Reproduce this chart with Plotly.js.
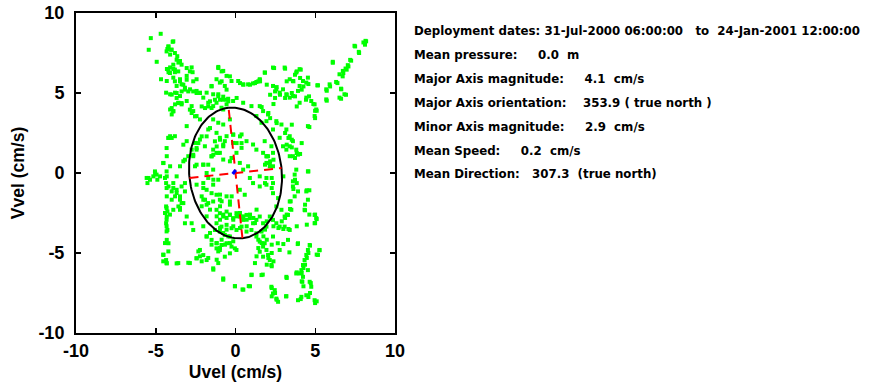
<!DOCTYPE html>
<html><head><meta charset="utf-8">
<script src="https://cdn.plot.ly/plotly-3.0.1.min.js"></script>
<style>body{margin:0;background:#fff}#chart{width:869px;height:389px}</style>
</head><body><div id="chart"></div>
<script>
// Velocity scatter (cm/s)
const uvel = [
-5.31,-4.69,-5.44,-4.94,-4.2,-4.04,-3.94,-4.27,-4.1,-3.8,-3.65,-3.48,-3.58,-4.3,-4.1,-3.9,-3.8,-4.2,
-4.67,-4.31,-3.9,-3.48,-3.06,-2.69,-2.44,-3.69,-3.38,-3.17,-2.85,-2.44,-2.23,-4.35,-4.1,-3.79,-3.48,
-3.58,-3.79,-3.38,-4.1,-4.0,-3.9,-3.06,-2.75,-2.65,-2.44,-2.23,-3.06,-3.06,-4.1,-4.2,-3.8,
-4.52,-4.73,-4.31,-4.35,-4.2,-5.46,-5.52,-5.04,-4.9,-5.15,
-4.31,-4.35,-4.27,-4.31,-4.35,-4.27,-4.31,-4.2,-4.52,-4.35,-4.31,
-3.69,-2.96,-2.44,-2.02,-1.4,-4.0,-3.79,-3.48,-3.27,-3.58,-3.9,-3.17,-3.9,-3.69,-3.38,
-1.08,-0.77,-0.56,-1.19,-0.98,-0.67,-0.25,0.17,0.48,0.79,1.1,1.31,1.52,
-1.5,-1.81,-1.4,-1.08,-0.77,-0.46,-0.15,-2.02,-1.71,-1.4,-1.19,-0.88,-0.56,0.48,1.0,1.52,1.73,2.35,1.83,1.52,
2.35,2.56,2.77,2.98,3.19,3.4,3.6,3.92,4.02,4.23,4.44,4.54,3.81,4.02,3.08,3.4,3.6,
4.02,4.44,4.75,4.96,5.06,4.96,4.54,5.17,5.69,5.9,6.31,6.63,6.83,6.52,5.69,
6.1,6.52,6.73,6.9,7.04,7.19,7.46,7.73,8.02,8.15,
2.04,2.56,2.35,2.88,3.19,3.4,3.6,3.4,3.81,3.92,3.6,2.77,2.98,3.19,3.4,2.35,2.04,1.94,2.15,
4.54,3.71,3.6,3.81,4.44,4.54,3.4,3.5,3.29,4.33,4.96,5.06,4.96,5.27,5.17,
4.65,4.54,4.44,4.33,4.23,4.13,4.02,4.23,3.92,3.81,4.54,3.92,4.13,4.44,4.75,4.96,4.65,4.19,3.19,3.29,3.4,3.08,
-1.4,-1.08,-0.77,-1.71,-1.19,-0.98,-0.56,-0.15,0.38,0.69,-2.23,-1.92,-1.4,-1.19,-1.5,-0.77,-0.67,
-2.44,-2.65,-2.54,-2.02,-1.81,-1.4,1.1,1.31,1.73,1.94,2.15,2.35,1.83,2.25,0.27,-0.25,0.06,0.38,
0.9,1.1,1.52,1.94,2.35,1.52,1.94,-1.81,-1.5,-1.19,-2.02,-1.71,-1.4,-0.98,-0.56,-0.35,
-1.19,-0.98,-0.77,-0.56,-0.35,-0.15,0.06,0.27,0.48,0.69,0.9,1.1,1.31,1.52,1.73,1.94,2.15,2.35,2.56,2.77,
-1.19,-0.88,-0.56,-0.25,0.06,0.38,0.69,1.0,1.31,1.63,-0.98,-0.67,-0.35,-1.29,
-1.81,-1.5,-1.19,-0.88,-0.56,-0.25,0.06,-0.98,-0.67,-0.35,-0.04,-1.19,
1.31,1.52,1.73,1.94,2.04,2.15,2.25,1.73,1.52,1.83,2.35,2.65,2.77,
-0.77,-0.04,0.44,0.83,1.0,1.63,2.25,2.35,2.56,2.67,3.19,2.46,-2.23,-2.44,-1.81,
-3.48,-3.06,-2.75,-2.65,-3.17,-3.69,-3.48,-4.1,-4.31,-0.77,-0.35,1.31,1.63,1.94,
-0.77,-0.35,-0.98,-0.15,-2.54,-2.75,-2.96,-2.02,-1.71,-1.4,0.48,0.79,0.27,0.58,
2.35,2.67,2.56,2.88,3.08,3.6,3.92,3.71,
-4.21,-4.0,-3.9,-4.32,-3.69,-3.48,-3.38,-3.9,-3.8,-4.21,-4.11,-3.59,-3.06,-2.86,-2.75,-2.65,-3.06,-3.48,-3.8,
-3.27,-3.38,-3.69,-4.0,-3.17,-2.96,-2.65,-2.44,-2.23,-3.69,-3.59,-3.38,-4.0,-3.9,-2.86,-2.75,-2.54,
-2.12,-1.91,-1.71,-1.5,-1.6,-1.29,-1.08,-0.97,-0.77,-0.56,-0.45,-1.5,-0.87,-0.56,-1.08,-0.87,-0.35,
0.28,0.49,0.91,1.22,1.43,0.07,
-4.32,-4.21,-4.0,-3.27,-3.27,-3.17,-4.53,-5.05,-4.32,-2.65,-2.44,-2.33,-2.12,-1.81,-1.6,-1.29,-1.18,-0.97,-0.77,
-1.39,-1.08,-1.5,-1.71,-2.02,-2.44,-0.14,0.28,0.07,0.38,
-1.18,-0.97,-0.77,-0.56,-0.35,-0.14,0.07,0.28,0.49,0.7,0.91,1.12,1.32,1.22,0.7,0.28,-0.14,-0.56,-0.97,
-0.77,-0.45,-0.87,-1.18,-0.66,-0.35,-0.14,-0.97,-1.08,-1.5,-1.81,-1.6,-2.02,-1.81,-2.12,-1.91,-1.81,-2.12,
-1.6,-0.97,-0.87,-0.35,-0.24,-0.97,-3.9,-3.69,-3.48,-3.38,-3.48,-4.0,-4.32,-4.42,-4.32,-4.11,-4.32,-4.32,
-4.42,-4.21,-4.53,-4.53,-4.32,-3.59,-2.86,-2.33,-2.23,-2.12,-1.71,-1.18,-1.08,-1.39,-0.77,-0.03,0.49,0.91,
1.01,1.22,1.32,1.43,1.43,-5.36,-5.57,-4.95,-4.42,-4.32,-3.17,-2.44,-2.02,-1.39,-1.08,
8.19,8.12,7.5,7.75,7.25,7.08,6.97,6.76,6.72,6.1,6.39,6.62,6.93,6.62,5.93,5.72,5.72,5.13,4.57,4.99,4.99,
5.09,4.63,4.88,4.61,4.42,4.15,4.26,4.05,4.09,3.73,3.84,3.63,3.21,3.11,2.42,1.85,1.96,2.58,2.48,2.17,2.48,
2.79,3.11,3.21,3.53,3.73,3.84,2.38,1.64,2.06,2.17,2.58,3.53,3.11,3.32,3.53,3.21,3.53,3.84,4.05,3.73,1.96,
2.17,1.85,2.38,4.15,4.57,1.54,
2.27,1.85,2.27,3.0,3.73,3.84,3.63,4.47,4.63,3.46,4.36,3.42,4.36,3.21,3.11,2.9,4.63,4.99,5.09,4.99,4.47,
3.84,3.32,3.0,2.69,2.38,1.96,1.85,1.75,1.64,1.96,2.27,3.0,3.9,4.67,5.26,5.09,4.57,4.47,4.36,4.26,4.15,
3.84,3.38,2.27,2.06,2.38,1.96,2.27,1.71,3.21,4.15,4.26,4.72,4.67,4.57,4.09,3.17,2.27,2.48,2.58,2.27,5.09,4.99
];
const vvel = [
8.43,8.7,7.7,6.95,7.9,7.7,8.2,7.75,7.4,7.5,7.3,7.0,6.9,6.5,6.6,6.5,6.3,6.3,
5.86,5.75,5.96,5.86,6.07,6.3,5.86,5.44,5.54,5.33,5.23,5.13,5.02,5.02,4.92,5.02,4.81,
4.39,4.29,4.29,3.97,3.66,3.87,4.5,4.18,3.87,3.56,3.35,2.93,1.99,2.3,2.2,2.3,
0.63,-0.21,-0.21,-0.63,-0.84,-0.31,-0.63,0.0,-0.42,-0.21,
-1.46,-2.09,-2.41,-2.72,-3.14,-3.56,-4.18,-4.39,-5.12,-5.44,-5.65,
-5.65,-5.61,-5.33,-5.13,-5.96,-1.15,-1.46,-1.67,-1.88,-2.09,-2.3,-1.15,-0.63,-1.05,-0.84,
6.63,6.38,6.07,5.86,5.65,5.44,5.75,5.75,5.54,5.54,5.6,5.69,5.82,
5.44,5.02,4.92,4.92,4.77,4.64,4.5,4.71,4.39,4.18,4.39,4.08,4.29,4.39,4.18,4.18,3.87,6.59,6.28,5.86,
5.44,5.23,5.02,5.23,4.92,4.71,4.81,5.13,5.44,5.75,5.65,5.96,6.28,6.49,6.59,5.86,5.75,
4.39,4.71,4.5,4.29,3.97,3.56,2.93,5.48,5.23,5.54,5.69,5.23,4.92,4.71,4.6,
6.95,6.17,6.38,6.53,6.74,7.07,7.95,7.57,8.16,8.26,
3.66,3.24,2.72,3.03,2.72,2.3,1.99,1.67,1.46,1.15,1.05,2.2,1.67,1.46,1.05,1.26,1.05,0.63,0.42,
0.1,-0.1,-0.52,0.21,-1.15,-1.67,-1.78,-2.3,-2.62,-2.3,-2.62,-2.82,-3.14,-4.81,-5.12,
-4.5,-4.81,-5.12,-5.44,-5.75,-6.07,-6.28,-6.49,-4.39,-6.28,-6.07,-7.95,-7.74,-7.64,-7.11,-7.95,-6.8,-6.8,-6.49,-4.18,-3.56,-3.35,
3.35,3.14,3.03,2.72,2.51,2.2,2.3,2.41,2.41,1.99,2.09,1.67,1.46,1.26,1.05,1.67,1.99,
1.46,1.05,0.42,0.52,0.0,0.21,1.78,1.46,1.26,1.05,0.63,0.42,1.99,1.67,0.63,0.94,1.26,1.57,
-0.31,-0.63,-0.84,-0.73,-0.63,-0.21,-0.31,-1.05,-1.26,-1.36,-1.67,-1.88,-1.78,-1.67,-1.46,-1.78,
-2.3,-2.51,-2.72,-2.41,-2.62,-2.82,-2.51,-2.72,-2.93,-2.62,-2.82,-3.14,-2.93,-2.72,-3.14,-3.35,-2.72,-2.93,-3.14,-3.35,
-3.14,-3.35,-3.24,-3.45,-3.56,-3.35,-3.66,-3.56,-3.77,-3.66,-3.66,-3.87,-3.97,-3.56,
-3.97,-4.18,-4.39,-4.5,-4.39,-4.6,-4.81,-4.81,-5.23,-5.02,-4.71,-4.71,
-3.97,-4.29,-4.6,-4.81,-5.12,-5.44,-5.75,-5.23,-4.92,-4.39,-3.97,-4.39,-4.81,
-6.59,-7.07,-7.28,-7.07,-6.38,-6.38,-7.11,-7.53,-7.85,-8.05,-7.7,-7.32,-4.81,-5.33,-5.44,
-2.3,-2.72,-3.14,-3.56,-3.14,-0.21,0.42,0.42,1.05,3.97,3.35,3.56,3.14,3.24,
0.84,0.73,1.26,1.88,1.88,1.46,1.05,-0.63,-0.31,-0.73,0.21,0.42,-1.05,-1.36,
-1.26,-1.57,-2.09,-2.3,-2.72,-0.84,-1.15,-1.46,
7.91,7.71,8.23,7.6,7.08,6.98,6.77,6.77,6.46,6.46,6.25,6.35,6.56,6.35,6.6,5.73,5.83,5.73,5.73,
5.52,5.1,5.0,4.9,5.21,5.1,5.1,5.0,5.0,4.69,4.37,4.37,4.06,3.85,3.96,3.75,3.54,
4.16,4.06,4.16,4.06,4.48,4.58,4.79,4.58,4.58,4.58,4.48,5.41,5.73,5.21,6.56,6.35,6.04,
5.62,5.52,5.52,5.62,5.73,4.69,
1.56,2.19,2.19,1.77,0.73,0.83,0.62,0.1,0.1,1.14,1.56,1.87,2.29,2.29,2.81,1.98,1.66,2.08,1.77,
1.14,1.25,1.04,0.52,0.52,0.52,2.39,2.29,1.87,1.87,
-2.71,-2.92,-2.6,-2.81,-2.6,-2.92,-2.71,-2.5,-2.71,-2.92,-2.6,-2.81,-2.29,-3.13,-3.33,-3.44,-3.33,-3.54,-3.44,
-3.75,-3.96,-4.17,-4.38,-4.48,-4.38,-4.27,-4.69,-4.9,-4.48,-3.96,-3.75,-3.33,-2.71,-1.46,-1.67,-1.98,-2.08,
-2.29,-2.08,-1.77,-1.98,-1.46,-1.35,-0.94,-1.25,-1.46,-1.88,-2.19,-1.67,-2.19,-2.5,-2.92,-2.6,-3.33,-3.65,
-4.38,-4.9,-5.1,-5.52,-5.63,-5.63,-5.63,-4.9,-5.21,-5.52,-5.31,-5.42,-5.63,-6.04,-6.67,-7.08,-7.29,-7.08,
-6.35,-5.63,-5.21,-4.69,-4.17,-0.42,-0.31,-0.1,-0.31,-0.94,-0.63,-0.73,-0.94,-0.42,-0.42,
8.23,8.02,7.91,7.5,7.02,6.66,6.46,6.25,6.04,6.89,5.62,5.27,4.89,4.64,5.41,5.14,4.52,5.48,5.56,3.89,3.43,
3.89,2.87,4.31,4.79,4.58,5.21,5.41,5.94,6.46,6.14,6.35,5.73,5.73,6.52,6.56,6.27,5.52,5.37,5.1,4.89,4.69,
4.89,4.69,4.89,5.0,4.79,4.16,4.31,4.12,3.75,3.43,3.12,3.02,2.5,2.19,2.08,1.77,1.6,1.25,1.19,0.94,1.04,
0.73,0.52,0.83,1.87,0.1,5.73,
-0.31,-0.63,-0.94,-0.21,-0.42,-0.63,-1.0,-1.08,-1.08,-1.77,-1.98,-2.25,-2.33,-2.6,-2.81,-3.02,-2.6,-2.6,-2.88,-3.13,-3.23,
-3.33,-3.5,-3.5,-3.44,-3.33,-3.02,-3.54,-3.96,-4.38,-4.17,-4.48,-4.44,-4.44,-4.54,-4.83,-5.1,-5.0,-5.31,-5.73,-5.94,-6.25,
-6.21,-4.96,-5.0,-5.31,-5.52,-5.73,-5.83,-6.35,-6.56,-6.77,-7.08,-6.88,-7.5,-7.75,-7.88,-7.71,-7.19,-7.5,-7.92,-7.71,-8.02,-8.13
];
// Statistics from the text panel
const deployment = "31-Jul-2000 06:00:00   to  24-Jan-2001 12:00:00";
const meanPressure = 0.0;
const majorMag = 4.1, majorOrient = 353.9;   // cm/s, degrees true north
const minorMag = 2.9;
const meanSpeed = 0.2, meanDir = 307.3;
const axisTicks = [-10, -5, 0, 5, 10];

const nb = s => s.replace(/ /g, '\u00a0');
const rad = d => d * Math.PI / 180;
const maj = [Math.sin(rad(majorOrient)), Math.cos(rad(majorOrient))];
const mnr = [maj[1], -maj[0]];
const ex = [], ey = [];
for (let i = 0; i <= 180; i++) {
  const t = 2 * Math.PI * i / 180;
  ex.push(majorMag * Math.cos(t) * maj[0] + minorMag * Math.sin(t) * mnr[0]);
  ey.push(majorMag * Math.cos(t) * maj[1] + minorMag * Math.sin(t) * mnr[1]);
}
const mu = meanSpeed * Math.sin(rad(meanDir)), mv = meanSpeed * Math.cos(rad(meanDir));

const traces = [
  {x: uvel, y: vvel, type: 'scatter', mode: 'markers', marker: {symbol: 'square', size: 4, color: '#00ff00', line: {width: 0}}, hoverinfo: 'none'},
  {x: ex, y: ey, type: 'scatter', mode: 'lines', line: {color: '#000', width: 2}},
  {x: [-majorMag * maj[0], majorMag * maj[0]], y: [-majorMag * maj[1], majorMag * maj[1]], type: 'scatter', mode: 'lines', line: {color: '#ff0000', width: 2, dash: '9px,6px'}},
  {x: [-minorMag * mnr[0], minorMag * mnr[0]], y: [-minorMag * mnr[1], minorMag * mnr[1]], type: 'scatter', mode: 'lines', line: {color: '#ff0000', width: 2, dash: '9px,6px'}},
  {x: [0, mu], y: [0, mv], type: 'scatter', mode: 'lines', line: {color: '#0000ff', width: 5}}
];

const lines = [
  'Deployment dates: ' + deployment,
  'Mean pressure:     ' + meanPressure.toFixed(1) + '  m',
  'Major Axis magnitude:     ' + majorMag.toFixed(1) + '  cm/s',
  'Major Axis orientation:    ' + majorOrient.toFixed(1) + ' ( true north )',
  'Minor Axis magnitude:     ' + minorMag.toFixed(1) + '  cm/s',
  'Mean Speed:     ' + meanSpeed.toFixed(1) + '  cm/s',
  'Mean Direction:   ' + meanDir.toFixed(1) + '  (true north)'
];
const lineY = [31, 55, 79, 103, 127, 151, 174];
const annotations = lines.map((s, i) => ({
  text: '<b>' + nb(s) + '</b>', xref: 'paper', yref: 'paper',
  x: (412 - 76) / 319, y: (333 - lineY[i]) / 320, xanchor: 'left', yanchor: 'middle',
  showarrow: false, font: {family: 'DejaVu Sans, sans-serif', size: 11.8, color: '#000'}
}));

const fam = 'Liberation Sans, Arial, sans-serif';
const axBase = {
  range: [-10, 10], tickvals: axisTicks, ticktext: axisTicks.map(v => v < 0 ? '-' + Math.abs(v) : String(v)),
  ticks: 'inside', ticklen: 5, tickwidth: 1.5, tickcolor: '#000', mirror: 'ticks',
  showline: true, linecolor: '#000', linewidth: 2, showgrid: false, zeroline: false,
  tickfont: {family: fam, size: 18, color: '#000', weight: 'bold'},
  automargin: false, fixedrange: true
};

const layout = {
  width: 869, height: 389, showlegend: false,
  margin: {l: 76, r: 474, t: 13, b: 56},
  paper_bgcolor: '#fff', plot_bgcolor: '#fff',
  xaxis: Object.assign({}, axBase, {ticklabelstandoff: 0, title: {text: '<b>Uvel (cm/s)</b>', standoff: 6, font: {family: fam, size: 17.5, color: '#000'}}}),
  yaxis: Object.assign({}, axBase, {ticklabelstandoff: 6, title: {text: '<b>Vvel (cm/s)</b>', standoff: 9, font: {family: fam, size: 17.5, color: '#000'}}}),
  annotations: annotations
};
Plotly.newPlot('chart', traces, layout, {staticPlot: true, displayModeBar: false});
</script></body></html>
